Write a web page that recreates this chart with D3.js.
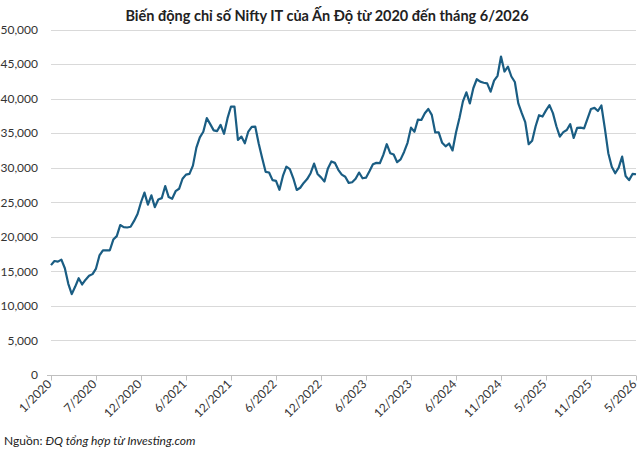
<!DOCTYPE html>
<html>
<head>
<meta charset="utf-8">
<script src="https://cdn.jsdelivr.net/npm/d3@7"></script>
<style>
  body { margin: 0; background: #fff; }
  svg text { font-family: Lato, "Open Sans", sans-serif; }
</style>
</head>
<body>
<div id="chart"></div>
<script>
// Nifty IT, biweekly closes (Jan 2020 -> Jun 2026)
const values = [
  15900, 16500, 16400, 16700, 15450, 13200, 11700, 12800, 14000, 13100,
  13800, 14350, 14600, 15400, 17300, 18050, 18050, 18050, 19600, 20100,
  21700, 21400, 21350, 21450, 22300, 23300, 25000, 26400, 24650, 26000,
  24300, 25400, 25600, 27350, 25750, 25500, 26600, 26950, 28400, 29000,
  29100, 30300, 32900, 34400, 35200, 37170, 36300, 35400, 35300, 36200,
  34900, 37170, 38850, 38850, 34020, 34500, 33540, 35230, 35900, 35950,
  33500, 31400, 29400, 29300, 28200, 28100, 26800, 28800, 30150, 29800,
  28470, 26780, 27100, 27800, 28350, 29200, 30600, 29100, 28600, 28000,
  29900, 30900, 30700, 29700, 29000, 28700, 27800, 27900, 28400, 29300,
  28470, 28560, 29500, 30500, 30700, 30650, 31850, 33400, 32100, 31900,
  30800, 31200, 32280, 33600, 35800, 35200, 36950, 36900, 37880, 38500,
  37640, 35100, 35100, 33600, 33100, 33500, 32500, 35100, 37200, 39600,
  40900, 39300, 41500, 42800, 42450, 42300, 42200, 41000, 42600, 43300,
  46090, 43920, 44640, 43200, 42400, 39300, 37890, 36600, 33400, 33900,
  36000, 37600, 37400, 38300, 39050, 37900, 36000, 34500, 35140, 35450,
  36300, 34300, 35750, 35800, 35700, 37100, 38500, 38650, 38200, 39000,
  35700, 32100, 30150, 29200, 30000, 31600, 28800, 28200, 29100, 29050
];

const tickLabels = ["1/2020", "7/2020", "12/2020", "6/2021", "12/2021", "6/2022", "12/2022",
  "6/2023", "12/2023", "6/2024", "11/2024", "5/2025", "11/2025", "5/2026"];
const tickStep = 13; // points between labelled ticks

const yTicks = [0, 5000, 10000, 15000, 20000, 25000, 30000, 35000, 40000, 45000, 50000];

const title = "Biến động chỉ số Nifty IT của Ấn Độ từ 2020 đến tháng 6/2026";

const width = 640;
const height = 455;
const plot = { left: 51, right: 636, top: 29.5, bottom: 375 };

const svg = d3.select("#chart")
  .append("svg")
  .attr("width", width)
  .attr("height", height);

const x = d3.scaleLinear()
  .domain([0, values.length - 1])
  .range([plot.left, plot.right]);

const y = d3.scaleLinear()
  .domain([0, 50000])
  .range([plot.bottom, plot.top]);

// Title
svg.append("text")
  .attr("x", 327)
  .attr("y", 21)
  .attr("text-anchor", "middle")
  .style("font-size", "14.5px")
  .style("font-weight", "bold")
  .style("fill", "#222")
  .text(title);

// Gridlines
svg.append("g")
  .selectAll("line")
  .data(yTicks.filter(d => d > 0))
  .enter()
  .append("line")
  .attr("x1", plot.left)
  .attr("x2", plot.right)
  .attr("y1", d => Math.round(y(d)) + 0.5)
  .attr("y2", d => Math.round(y(d)) + 0.5)
  .attr("stroke", "#d9d9d9")
  .attr("stroke-width", 1);

// Y labels
const yAxis = svg.append("g")
  .attr("transform", `translate(${plot.left - 13},0)`)
  .call(d3.axisLeft(y).tickValues(yTicks).tickSize(0).tickFormat(d3.format(",")));
yAxis.select(".domain").remove();
yAxis.selectAll("text")
  .style("font-size", "12px")
  .style("fill", "#333")
  .attr("x", 0);

// X axis
const xAxis = svg.append("g")
  .attr("transform", `translate(0,${Math.round(plot.bottom) + 0.5})`)
  .call(d3.axisBottom(x)
    .tickValues(tickLabels.map((_, i) => i * tickStep))
    .tickFormat((d, i) => tickLabels[i])
    .tickSize(5)
    .tickSizeOuter(0));
xAxis.select(".domain").attr("stroke", "#bfbfbf").attr("d", `M${plot.left - 4},0H${plot.right}`);
xAxis.selectAll(".tick line").attr("stroke", "#bfbfbf");
xAxis.selectAll("text")
  .style("font-size", "12px")
  .style("fill", "#333")
  .attr("text-anchor", "end")
  .attr("transform", "rotate(-45)")
  .attr("x", -6)
  .attr("y", 3)
  .attr("dy", "0.35em");

// Line
const line = d3.line()
  .x((d, i) => x(i))
  .y(d => y(d));

svg.append("path")
  .datum(values)
  .attr("fill", "none")
  .attr("stroke", "#1a5d83")
  .attr("stroke-width", 2.2)
  .attr("stroke-linejoin", "round")
  .attr("d", line);

// Source
const src = svg.append("text")
  .attr("x", 4)
  .attr("y", 445)
  .style("font-size", "12px")
  .style("fill", "#222");
src.append("tspan").text("Nguồn: ");
src.append("tspan").style("font-style", "italic").text("ĐQ tổng hợp từ Investing.com");
</script>
</body>
</html>
